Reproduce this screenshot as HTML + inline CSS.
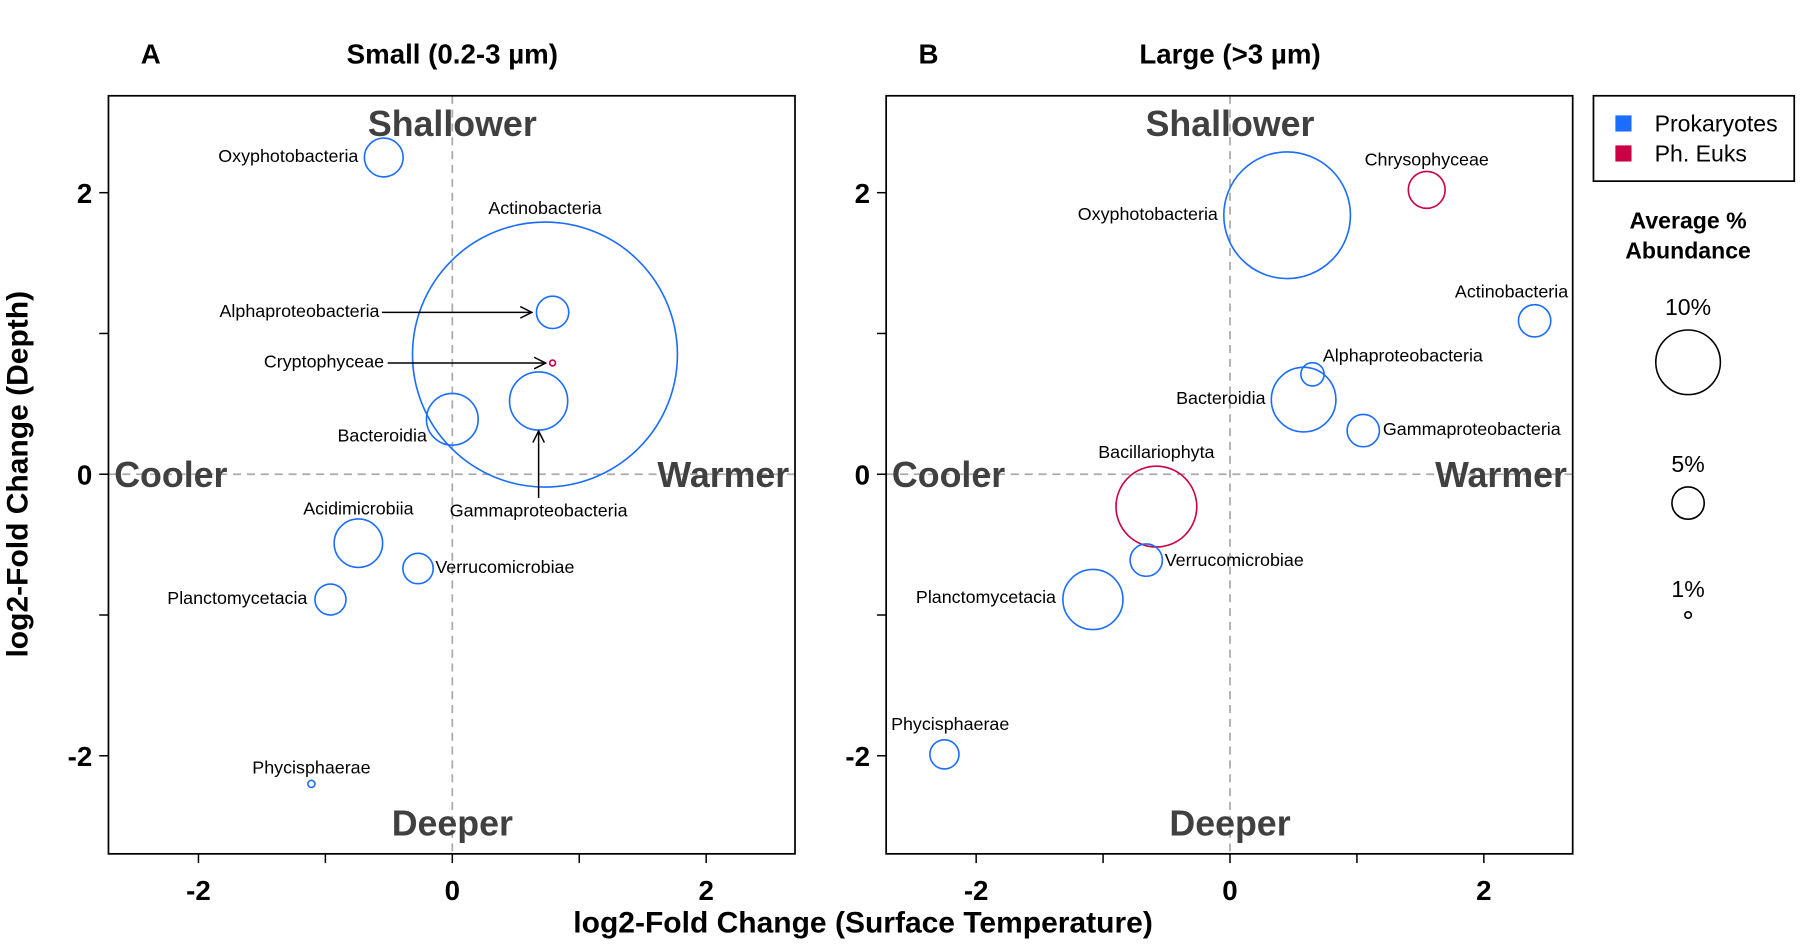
<!DOCTYPE html>
<html><head><meta charset="utf-8"><style>
html,body{margin:0;padding:0;background:#fff}
svg{display:block;font-family:"Liberation Sans",Arial,sans-serif}
</style></head><body>
<svg id="chart" width="1800" height="945" viewBox="0 0 1560 819" xmlns="http://www.w3.org/2000/svg"></svg>
<script>
const namesA=["Oxyphotobacteria","Actinobacteria","Alphaproteobacteria","Cryptophyceae","Gammaproteobacteria","Bacteroidia","Acidimicrobiia","Verrucomicrobiae","Planctomycetacia","Phycisphaerae"];
const tempA=[-0.54,0.73,0.79,0.79,0.68,0.0,-0.74,-0.27,-0.96,-1.11];
const depthA=[2.25,0.85,1.15,0.79,0.52,0.39,-0.49,-0.67,-0.89,-2.2];
const abundA=[6,41,5,0.9,9,8,7.5,4.7,4.8,1.1];
const groupA=["P","P","P","E","P","P","P","P","P","P"];
const namesB=["Oxyphotobacteria","Chrysophyceae","Actinobacteria","Alphaproteobacteria","Bacteroidia","Gammaproteobacteria","Bacillariophyta","Verrucomicrobiae","Planctomycetacia","Phycisphaerae"];
const tempB=[0.45,1.55,2.4,0.65,0.58,1.05,-0.58,-0.66,-1.08,-2.25];
const depthB=[1.84,2.02,1.09,0.71,0.53,0.31,-0.23,-0.61,-0.89,-1.99];
const abundB=[19.6,5.7,5,3.6,10,5,12.5,5,9.3,4.5];
const groupB=["P","E","P","P","P","P","E","P","P","P"];
const xTicks=[-2,-1,0,1,2];
const yTicks=[-2,-1,0,1,2];
const legendSizes=[10,5,1];

const layA=[["end",-22,4],["middle",0,-122],["end",-150,4],["end",-146,4],["middle",0,100],["end",-22,19],["middle",0,-25],["start",15,4],["end",-20,4],["middle",0,-9]];
const layB=[["end",-60,4],["middle",0,-21],["middle",-20,-20],["start",9,-11],["end",-33,4],["start",17,4],["middle",0,-42],["start",16,5],["end",-32,3],["middle",5,-21]];

const svg=document.getElementById('chart');
const NS="http://www.w3.org/2000/svg";
function mk(tag,attrs,txt){const e=document.createElementNS(NS,tag);for(const k in attrs)e.setAttribute(k,attrs[k]);if(txt!==undefined)e.textContent=txt;svg.appendChild(e);return e;}
const COL={P:"#1a6dff",E:"#cc0044"};
const rScale=p=>2.8*p;
function yS(v){return 411-122*v;}
function panel(off,names,tx,dy,ab,gr,lay,letter,title,pname){
  const xS=v=>392+off+110*v;
  const L=94+off,R=689+off,T=83,B=740;
  let e=mk('line',{x1:xS(0),y1:T,x2:xS(0),y2:B,stroke:"#aaa","stroke-width":1.5,"stroke-dasharray":"7,5"});
  
  e=mk('line',{x1:L,y1:yS(0),x2:R,y2:yS(0),stroke:"#aaa","stroke-width":1.5,"stroke-dasharray":"7,5"});
  
  const q=[["Shallower",xS(0),118,"middle"],["Deeper",xS(0),724,"middle"],["Cooler",L+5,422,"start"],["Warmer",R-5,422,"end"]];
  q.forEach(a=>{e=mk('text',{x:a[1],y:a[2],"text-anchor":a[3],"font-size":31,"font-weight":"bold",fill:"#404040"},a[0]);
    });
  e=mk('rect',{x:L,y:T,width:R-L,height:B-T,fill:"none",stroke:"#000","stroke-width":1.5});
  
  xTicks.forEach(t=>{e=mk('line',{x1:xS(t),y1:B,x2:xS(t),y2:B+8,stroke:"#000","stroke-width":1.3});
    
    if(t%2===0){e=mk('text',{x:xS(t),y:B+40,"text-anchor":"middle","font-size":24,"font-weight":"bold"},String(t));
    }});
  yTicks.forEach(t=>{e=mk('line',{x1:L-8,y1:yS(t),x2:L,y2:yS(t),stroke:"#000","stroke-width":1.3});
    
    if(t%2===0){e=mk('text',{x:L-14,y:yS(t)+9,"text-anchor":"end","font-size":24,"font-weight":"bold"},String(t));
    }});
  e=mk('text',{x:off+122,y:55,"font-size":24,"font-weight":"bold"},letter);
  
  e=mk('text',{x:off+392,y:55,"text-anchor":"middle","font-size":24,"font-weight":"bold"},title);
  
  names.forEach((n,i)=>{
    const cx=xS(tx[i]),cy=yS(dy[i]);
    e=mk('circle',{cx:cx,cy:cy,r:rScale(ab[i]),fill:"none",stroke:COL[gr[i]],"stroke-width":1.4});
    
    const l=lay[i];
    e=mk('text',{x:cx+l[1],y:cy+l[2],"text-anchor":l[0],"font-size":15.5},n);
    
  });
}
panel(0,namesA,tempA,depthA,abundA,groupA,layA,"A","Small (0.2-3 µm)","panel-a");
panel(674,namesB,tempB,depthB,abundB,groupB,layB,"B","Large (>3 µm)","panel-b");
const defs=document.createElementNS(NS,'defs');
defs.innerHTML='<marker id="ah" markerWidth="12" markerHeight="12" refX="11" refY="6" orient="auto" markerUnits="userSpaceOnUse"><path d="M1,1 L11,6 L1,11" fill="none" stroke="#000" stroke-width="1.3"/></marker>';
svg.insertBefore(defs,svg.firstChild);
const xA=v=>392+110*v;
function arrow(x1,y1,x2,y2,name){const e=mk('line',{x1:x1,y1:y1,x2:x2,y2:y2,stroke:"#000","stroke-width":1.3,"marker-end":"url(#ah)"});
  }
arrow(331,yS(depthA[2]),xA(tempA[2])-18,yS(depthA[2]),'arrow-alphaproteobacteria');
arrow(336,yS(depthA[3]),xA(tempA[3])-6,yS(depthA[3]),'arrow-cryptophyceae');
arrow(xA(tempA[4]),yS(depthA[4])+84,xA(tempA[4]),yS(depthA[4])+26,'arrow-gammaproteobacteria');
let e=mk('text',{x:748,y:808,"text-anchor":"middle","font-size":26,"font-weight":"bold"},"log2-Fold Change (Surface Temperature)");

e=mk('text',{x:0,y:0,transform:"translate(24,411) rotate(-90)","text-anchor":"middle","font-size":26,"font-weight":"bold"},"log2-Fold Change (Depth)");

e=mk('rect',{x:1381,y:83,width:174,height:74,fill:"none",stroke:"#000","stroke-width":1.5});

[["Prokaryotes","P",107],["Ph. Euks","E",133]].forEach(a=>{
  e=mk('rect',{x:1400,y:a[2]-7,width:14,height:14,fill:COL[a[1]]});
  
  e=mk('text',{x:1434,y:a[2]+7,"font-size":20},a[0]);
  });
e=mk('text',{x:1463,y:198,"text-anchor":"middle","font-size":20,"font-weight":"bold"},"Average %");

e=mk('text',{x:1463,y:224,"text-anchor":"middle","font-size":20,"font-weight":"bold"},"Abundance");

const legY=[314,436,533];
legendSizes.forEach((s,i)=>{
  e=mk('circle',{cx:1463,cy:legY[i],r:rScale(s),fill:"none",stroke:"#000","stroke-width":1.4});
  
  e=mk('text',{x:1463,y:legY[i]-rScale(s)-13,"text-anchor":"middle","font-size":20},s+"%");
  });
</script>
</body></html>
